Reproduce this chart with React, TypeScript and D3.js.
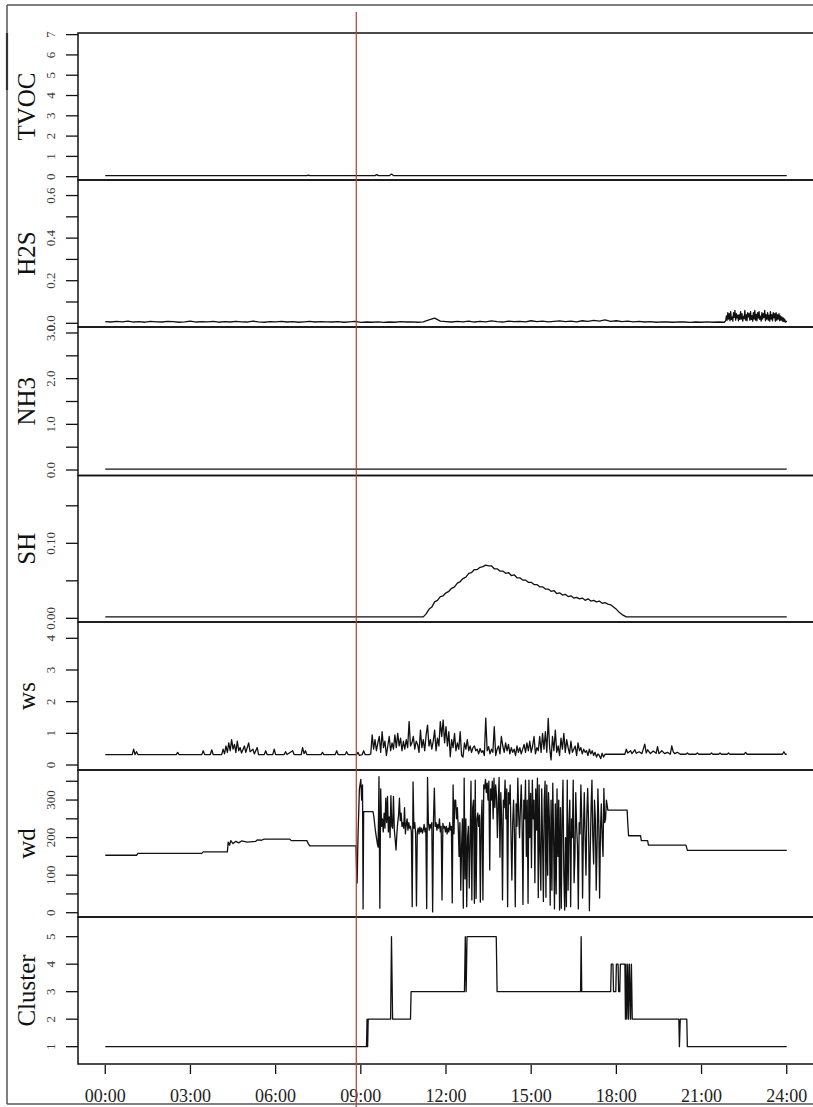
import * as d3 from "d3";

type Pt = [number, number];

// x axis (hours of the day)
const xTickHours = [0, 3, 6, 9, 12, 15, 18, 21, 24];
const xTickLabels = ["00:00", "03:00", "06:00", "09:00", "12:00", "15:00", "18:00", "21:00", "24:00"];
const markerHour = 8.84;

// TVOC
const tvocSeries: Pt[] = [
  [0, 0.05], [7.1, 0.05], [7.15, 0.08], [7.2, 0.05], [9.5, 0.05], [9.56, 0.1], [9.62, 0.05],
  [10.0, 0.05], [10.08, 0.13], [10.16, 0.05], [24, 0.05],
];
const tvocTicks = [0, 1, 2, 3, 4, 5, 6, 7];
const tvocLabels = ["0", "1", "2", "3", "4", "5", "6", "7"];

// H2S: regular readings, then a dense burst late evening
const h2sBaseStart = 0;
const h2sBaseStep = 0.2;
const h2sBaseValues = [
  0.008, 0.006, 0.009, 0.007, 0.01, 0.006, 0.008, 0.005, 0.009, 0.007,
  0.006, 0.009, 0.008, 0.005, 0.007, 0.01, 0.006, 0.008, 0.007, 0.009,
  0.005, 0.008, 0.006, 0.009, 0.007, 0.006, 0.01, 0.007, 0.005, 0.008,
  0.007, 0.009, 0.006, 0.008, 0.005, 0.007, 0.009, 0.006, 0.008, 0.007,
  0.006, 0.008, 0.005, 0.007, 0.009, 0.004, 0.006, 0.005, 0.007, 0.004,
  0.006, 0.005, 0.008, 0.006, 0.007, 0.005, 0.007, 0.016, 0.024, 0.01,
  0.008, 0.006, 0.009, 0.007, 0.01, 0.006, 0.009, 0.007, 0.011, 0.008,
  0.006, 0.01, 0.008, 0.009, 0.007, 0.012, 0.008, 0.01, 0.007, 0.009,
  0.011, 0.008, 0.01, 0.007, 0.012, 0.009, 0.014, 0.01, 0.016, 0.009,
  0.012, 0.008, 0.01, 0.007, 0.009, 0.006, 0.008, 0.005, 0.007, 0.006,
  0.005, 0.007, 0.006, 0.004, 0.006, 0.005, 0.007, 0.005, 0.006, 0.005,
];
const h2sBurstStart = 21.85;
const h2sBurstStep = 0.025;
const h2sBurstValues = [
  0.012, 0.035, 0.015, 0.05, 0.02, 0.045, 0.012, 0.055, 0.018, 0.03,
  0.01, 0.05, 0.028, 0.06, 0.015, 0.045, 0.025, 0.038, 0.012, 0.04,
  0.018, 0.055, 0.02, 0.045, 0.01, 0.032, 0.022, 0.06, 0.015, 0.04,
  0.012, 0.05, 0.03, 0.045, 0.015, 0.055, 0.018, 0.036, 0.01, 0.05,
  0.02, 0.06, 0.015, 0.042, 0.012, 0.05, 0.025, 0.055, 0.018, 0.034,
  0.01, 0.05, 0.02, 0.045, 0.028, 0.06, 0.012, 0.04, 0.02, 0.05,
  0.015, 0.038, 0.01, 0.055, 0.02, 0.04, 0.012, 0.05, 0.026, 0.045,
  0.01, 0.05, 0.015, 0.04, 0.02, 0.045, 0.012, 0.035, 0.015, 0.03,
  0.01, 0.025, 0.008, 0.02, 0.006, 0.01, 0.005,
];
const h2sTicks = [0, 0.1, 0.2, 0.3, 0.4, 0.5, 0.6];
const h2sLabels = ["0.0", "", "0.2", "", "0.4", "", "0.6"];

// NH3
const nh3Series: Pt[] = [[0, 0.02], [24, 0.02]];
const nh3Ticks = [0, 0.5, 1, 1.5, 2, 2.5, 3];
const nh3Labels = ["0.0", "", "1.0", "", "2.0", "", "3.0"];

// SH
const shSeries: Pt[] = [
  [0, 0.002], [11.2, 0.002], [11.3, 0.006], [11.4, 0.012], [11.5, 0.015], [11.6, 0.022], [11.7, 0.024],
  [11.8, 0.029], [11.9, 0.03], [12.0, 0.034], [12.1, 0.036], [12.2, 0.04], [12.3, 0.042], [12.4, 0.047],
  [12.5, 0.049], [12.6, 0.053], [12.7, 0.055], [12.8, 0.06], [12.9, 0.061], [13.0, 0.065], [13.1, 0.065],
  [13.2, 0.068], [13.3, 0.069], [13.4, 0.071], [13.5, 0.07], [13.6, 0.07], [13.7, 0.066], [13.8, 0.066],
  [13.9, 0.063], [14.0, 0.063], [14.1, 0.06], [14.2, 0.061], [14.3, 0.057], [14.4, 0.058], [14.5, 0.054],
  [14.6, 0.054], [14.7, 0.051], [14.8, 0.051], [14.9, 0.048], [15.0, 0.048], [15.1, 0.045], [15.2, 0.045],
  [15.3, 0.042], [15.4, 0.042], [15.5, 0.039], [15.6, 0.039], [15.7, 0.036], [15.8, 0.037], [15.9, 0.033],
  [16.0, 0.034], [16.1, 0.031], [16.2, 0.032], [16.3, 0.029], [16.4, 0.03], [16.5, 0.027], [16.6, 0.028],
  [16.7, 0.026], [16.8, 0.027], [16.9, 0.024], [17.0, 0.026], [17.1, 0.023], [17.2, 0.024], [17.3, 0.022],
  [17.4, 0.023], [17.5, 0.02], [17.6, 0.021], [17.7, 0.019], [17.8, 0.018], [17.9, 0.015], [18.0, 0.012],
  [18.1, 0.008], [18.2, 0.005], [18.3, 0.003], [18.35, 0.002], [24, 0.002],
];
const shTicks = [0, 0.05, 0.1, 0.15];
const shLabels = ["0.00", "", "0.10", ""];

// ws
const wsEarly: Pt[] = [
  [0, 0.33], [0.95, 0.33], [1.0, 0.5], [1.05, 0.33], [1.1, 0.42], [1.15, 0.33], [2.5, 0.33], [2.55, 0.4],
  [2.6, 0.33], [3.4, 0.33], [3.45, 0.45], [3.5, 0.33], [3.7, 0.33], [3.75, 0.48], [3.8, 0.33], [4.1, 0.33],
  [4.15, 0.5], [4.2, 0.35], [4.25, 0.6], [4.3, 0.4], [4.35, 0.7], [4.4, 0.45], [4.45, 0.8], [4.5, 0.5],
  [4.55, 0.65], [4.6, 0.4], [4.65, 0.75], [4.7, 0.45], [4.75, 0.55], [4.8, 0.38], [4.9, 0.6], [4.95, 0.4],
  [5.05, 0.7], [5.1, 0.42], [5.2, 0.5], [5.25, 0.35], [5.35, 0.55], [5.4, 0.33], [5.6, 0.33], [5.65, 0.45],
  [5.7, 0.33], [5.9, 0.33], [5.95, 0.5], [6.0, 0.33], [6.3, 0.33], [6.35, 0.42], [6.4, 0.33], [6.6, 0.45],
  [6.65, 0.33], [6.9, 0.33], [6.95, 0.55], [7.0, 0.36], [7.05, 0.45], [7.1, 0.33], [7.6, 0.33], [7.65, 0.4],
  [7.7, 0.33], [8.1, 0.33], [8.15, 0.45], [8.2, 0.33], [8.45, 0.33], [8.5, 0.42], [8.55, 0.33], [8.85, 0.33],
  [8.9, 0.4], [8.95, 0.3], [9.05, 0.33], [9.1, 0.45], [9.15, 0.33], [9.3, 0.33],
];
const wsBusyStart = 9.35;
const wsBusyStep = 0.05;
const wsBusyValues = [
  0.35, 0.95, 0.5, 0.8, 0.45,
  0.7, 0.9, 0.4, 1.05, 0.55, 0.75, 0.3, 0.6,
  0.9, 0.45, 0.7, 0.5, 0.95, 0.55, 1.0, 0.6, 0.85, 0.45,
  0.75, 0.5, 0.8, 0.55, 1.37, 0.6, 0.7, 0.9, 0.5, 0.75,
  0.65, 0.4, 1.1, 0.55, 0.8, 0.45, 0.95, 1.26, 0.6, 0.8,
  0.5, 0.75, 1.1, 0.45, 0.85, 0.6, 1.37, 0.9, 1.42, 0.7,
  1.21, 0.6, 1.05, 0.26, 0.8, 0.55, 1.0, 0.45, 0.7, 0.5,
  1.05, 0.3, 0.25, 0.7, 0.5, 0.8, 0.45, 0.6, 0.4, 0.55,
  0.6, 0.45, 0.5, 0.35, 0.52, 0.4, 0.45, 0.3, 1.48, 0.45,
  0.58, 0.35, 0.5, 0.4, 1.21, 0.3, 0.5, 0.6, 0.35, 0.9,
  0.6, 0.4, 0.7, 0.45, 0.65, 0.35, 0.55, 0.4, 0.5, 0.3,
  0.6, 0.4, 0.55, 0.35, 0.5, 0.65, 0.4, 0.7, 0.45, 0.75,
  0.4, 0.6, 0.9, 0.35, 0.55, 0.45, 0.9, 0.4, 1.0, 0.5,
  1.05, 0.4, 1.47, 0.55, 0.16, 0.9, 0.45, 1.1, 0.4, 0.6,
  0.3, 0.85, 0.5, 1.0, 0.4, 0.8, 0.55, 0.35, 0.75, 0.4,
  0.5, 0.6, 0.3, 0.7, 0.45, 0.55, 0.35, 0.5, 0.4, 0.45,
  0.3, 0.5, 0.35, 0.45, 0.3, 0.4, 0.25, 0.35, 0.3, 0.2,
  0.37, 0.25, 0.34, 0.34,
];
const wsLate: Pt[] = [
  [17.7, 0.34], [18.3, 0.34], [18.35, 0.5], [18.4, 0.38], [18.5, 0.45], [18.55, 0.36], [18.65, 0.48],
  [18.7, 0.37], [18.8, 0.42], [18.9, 0.36], [19.0, 0.66], [19.05, 0.38], [19.1, 0.48], [19.2, 0.36],
  [19.3, 0.44], [19.4, 0.37], [19.45, 0.58], [19.5, 0.36], [19.6, 0.45], [19.7, 0.36], [19.8, 0.4],
  [19.9, 0.34], [19.95, 0.6], [20.0, 0.42], [20.05, 0.36], [20.15, 0.4], [20.25, 0.34], [20.45, 0.34],
  [20.5, 0.38], [20.55, 0.34], [20.8, 0.34], [20.85, 0.38], [20.9, 0.34], [21.3, 0.34], [21.35, 0.38],
  [21.4, 0.34], [21.6, 0.34], [21.65, 0.38], [21.7, 0.34], [21.9, 0.34], [21.95, 0.38], [22.0, 0.34],
  [22.5, 0.34], [22.55, 0.4], [22.6, 0.34], [23.85, 0.34], [23.9, 0.42], [23.95, 0.34], [24, 0.34],
];
const wsTicks = [0, 1, 2, 3, 4];
const wsLabels = ["0", "1", "2", "3", "4"];

// wd
const wdEarly: Pt[] = [
  [0, 153], [1.1, 153], [1.15, 158], [3.4, 158], [3.45, 162], [4.3, 162], [4.33, 188], [4.38, 180],
  [4.42, 192], [4.5, 184], [4.6, 190], [4.7, 186], [4.8, 191], [5.0, 188], [5.3, 190], [5.35, 194],
  [5.5, 193], [5.6, 196], [6.5, 196], [6.55, 192], [7.1, 192], [7.15, 184], [7.2, 178], [8.83, 178],
  [8.85, 120], [8.87, 79], [8.9, 200], [8.95, 330], [9.0, 355], [9.03, 300], [9.06, 340], [9.08, 10],
];
const wdBusyStart = 9.1;
const wdBusyStep = 0.03;
const wdBusyValues = [
  269, 269, 269, 269, 269, 269, 269, 269, 269, 269, 269, 269,
  255, 235, 215, 200, 185, 175,
  362, 12, 330, 230, 250, 215,
  265, 225, 305, 240, 310, 215, 255, 200, 312, 230,
  225, 310, 220, 195, 167, 210, 240, 260, 305, 245,
  265, 230, 240, 225, 280, 210, 235, 250, 220, 240,
  225, 230, 215, 16, 348, 225, 240, 210, 18, 215,
  225, 210, 228, 215, 225, 212, 220, 235, 215, 225,
  11, 360, 240, 220, 235, 225, 240, 2, 250, 332,
  230, 240, 220, 235, 225, 250, 215, 230, 34, 238,
  225, 230, 215, 230, 210, 225, 215, 240, 220, 230,
  26, 340, 210, 300, 300, 250, 280, 230, 150, 240,
  60, 180, 250, 12, 358, 90, 250, 16, 200, 230,
  66, 190, 350, 34, 280, 300, 25, 353, 38, 250,
  265, 230, 260, 28, 240, 300, 34, 340, 330, 355,
  320, 345, 300, 350, 114, 330, 300, 350, 250, 358,
  280, 340, 310, 200, 290, 360, 148, 320, 250, 34,
  300, 280, 353, 250, 330, 16, 320, 290, 340, 200,
  87, 240, 300, 210, 16, 290, 230, 358, 260, 200,
  280, 340, 240, 22, 300, 250, 353, 150, 300, 25,
  353, 200, 318, 120, 353, 250, 300, 80, 330, 220,
  358, 40, 340, 160, 60, 330, 200, 30, 300, 350,
  41, 340, 100, 320, 250, 20, 300, 60, 345, 200,
  10, 290, 50, 330, 150, 300, 7, 280, 12, 250,
  353, 100, 7, 200, 16, 353, 60, 230, 300, 16,
  250, 200, 353, 80, 150, 320, 230, 180, 10, 240,
  210, 340, 250, 39, 220, 320, 200, 100, 260, 331,
  240, 5, 160, 280, 353, 200, 130, 300, 250, 60,
  180, 330, 240, 39, 220, 290, 200, 150, 331, 240,
  250, 300,
];
const wdLate: Pt[] = [
  [17.7, 273], [18.38, 273], [18.4, 240], [18.43, 205], [18.85, 205], [18.88, 192], [19.1, 192],
  [19.13, 180], [20.45, 180], [20.5, 166], [24, 166],
];
const wdTicks = [0, 50, 100, 150, 200, 250, 300, 350];
const wdLabels = ["0", "", "100", "", "200", "", "300", ""];

// Cluster
const clusterSeries: Pt[] = [
  [0, 1], [9.2, 1], [9.22, 2], [9.24, 1], [9.26, 2], [10.05, 2], [10.08, 5], [10.12, 2], [10.75, 2],
  [10.77, 3], [12.65, 3], [12.68, 5], [12.71, 3], [12.74, 5], [13.77, 5], [13.8, 3], [16.74, 3],
  [16.76, 5], [16.78, 3], [17.8, 3], [17.82, 4], [17.88, 4], [17.9, 3], [17.98, 3], [18.0, 4],
  [18.06, 4], [18.08, 3], [18.12, 3], [18.14, 4], [18.3, 4], [18.32, 2], [18.34, 4], [18.37, 2],
  [18.4, 4], [18.43, 2], [18.46, 4], [18.5, 2], [18.53, 4], [18.56, 2], [20.2, 2], [20.22, 1],
  [20.25, 2], [20.48, 2], [20.5, 1], [24, 1],
];
const clusterTicks = [1, 2, 3, 4, 5];
const clusterLabels = ["1", "2", "3", "4", "5"];

const fromSteps = (start: number, step: number, values: number[]): Pt[] =>
  values.map((v, i) => [start + i * step, v] as Pt);

const h2sSeries = [
  ...fromSteps(h2sBaseStart, h2sBaseStep, h2sBaseValues),
  ...fromSteps(h2sBurstStart, h2sBurstStep, h2sBurstValues),
];
const wsSeries = [...wsEarly, ...fromSteps(wsBusyStart, wsBusyStep, wsBusyValues), ...wsLate];
const wdSeries = [...wdEarly, ...fromSteps(wdBusyStart, wdBusyStep, wdBusyValues), ...wdLate];

const W = 813;
const H = 1107;
const left = 78;
const right = 814;
const edges = [33, 180, 327, 475.5, 622, 770, 917, 1064];
const serif = "'Liberation Serif', 'Times New Roman', serif";

const panels = [
  { name: "TVOC", data: tvocSeries, domain: [-0.163, 7.08], ticks: tvocTicks, labels: tvocLabels },
  { name: "H2S", data: h2sSeries, domain: [-0.0174, 0.673], ticks: h2sTicks, labels: h2sLabels },
  { name: "NH3", data: nh3Series, domain: [-0.12, 3.131], ticks: nh3Ticks, labels: nh3Labels },
  { name: "SH", data: shSeries, domain: [-0.0049, 0.1904], ticks: shTicks, labels: shLabels },
  { name: "ws", data: wsSeries, domain: [-0.158, 4.515], ticks: wsTicks, labels: wsLabels },
  { name: "wd", data: wdSeries, domain: [-11.4, 380], ticks: wdTicks, labels: wdLabels },
  { name: "Cluster", data: clusterSeries, domain: [0.37, 5.716], ticks: clusterTicks, labels: clusterLabels },
];

export default function App() {
  const x = d3.scaleLinear().domain([-0.96, 24.96]).range([left, right]);

  return (
    <svg
      width={W}
      height={H}
      style={{ position: "absolute", left: 0, top: 0, background: "#fff" }}
    >
      <rect x={0} y={0} width={W} height={H} fill="#fff" />
      {panels.map((p, i) => {
        const top = edges[i];
        const bottom = edges[i + 1];
        const y = d3.scaleLinear().domain(p.domain).range([bottom, top]);
        const line = d3
          .line<Pt>()
          .x((d) => x(d[0]))
          .y((d) => y(d[1]));
        const mid = (top + bottom) / 2;
        return (
          <g key={p.name}>
            <path d={line(p.data) ?? ""} fill="none" stroke="#111" strokeWidth={1.3} strokeLinejoin="round" />
            <rect x={left} y={top} width={right - left} height={bottom - top} fill="none" stroke="#111" strokeWidth={1.5} />
            {p.ticks.map((t, j) => (
              <g key={j}>
                <line x1={left - 12} x2={left} y1={y(t)} y2={y(t)} stroke="#111" strokeWidth={1.3} />
                {p.labels[j] && (
                  <text
                    transform={`translate(54.5,${y(t)}) rotate(-90)`}
                    textAnchor="middle"
                    fontFamily={serif}
                    fontSize={13}
                    fill="#3a3a3a"
                  >
                    {p.labels[j]}
                  </text>
                )}
              </g>
            ))}
            <text
              transform={`translate(35,${mid}) rotate(-90)`}
              textAnchor="middle"
              fontFamily={serif}
              fontSize={25}
              fill="#111"
            >
              {p.name}
            </text>
          </g>
        );
      })}
      {xTickHours.map((h, i) => (
        <g key={h}>
          <line x1={x(h)} x2={x(h)} y1={1065} y2={1074} stroke="#111" strokeWidth={1.3} />
          <text x={x(h)} y={1102} textAnchor="middle" fontFamily={serif} fontSize={18} fill="#222">
            {xTickLabels[i]}
          </text>
        </g>
      ))}
      {/* outer frame */}
      <line x1={7} x2={W} y1={5} y2={5} stroke="#555" strokeWidth={1.5} />
      <line x1={7} x2={7} y1={5} y2={1104} stroke="#555" strokeWidth={1.5} />
      <line x1={7} x2={7} y1={33} y2={90} stroke="#333" strokeWidth={2.2} />
      <line x1={7} x2={W} y1={1104} y2={1104} stroke="#555" strokeWidth={1.5} />
      {/* marker */}
      <line x1={x(markerHour)} x2={x(markerHour)} y1={12} y2={H} stroke="#c0392b" strokeWidth={1.2} />
    </svg>
  );
}
